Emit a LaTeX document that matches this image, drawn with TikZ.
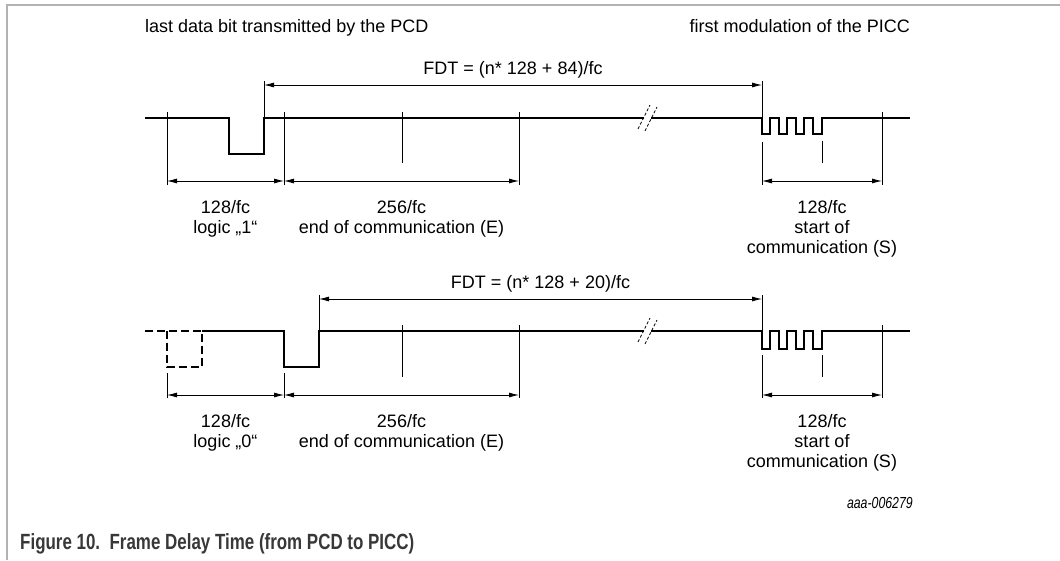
\documentclass[tikz,border=0pt]{standalone}
\usepackage{fontspec}
\setmainfont{Liberation Sans}
\newfontfamily\captionfont[FakeStretch=0.77]{Liberation Sans}
\usetikzlibrary{arrows.meta, positioning}

\begin{document}
\begin{tikzpicture}[
    x=1pt,
    y=-1pt,
    wave/.style={
        line width=2.6pt,
        line join=miter
    },
    ghost/.style={
        wave,
        dash pattern=on 8pt off 4pt
    },
    brk/.style={
        line width=0.8pt,
        dash pattern=on 3pt off 2pt
    },
    tick/.style={
        line width=0.8pt
    },
    dim/.style={
        <->,
        >={Latex[length=10pt, width=5pt]},
        line width=0.8pt
    },
    lbl/.style={
        font=\fontsize{18}{20}\selectfont,
        align=center,
        inner sep=0pt
    },
    frame/.style={
        draw=black!30,
        line width=1.5pt
    }
]
\useasboundingbox (0,0) rectangle (1060,560);

% Figure frame
\draw[frame] (7,560) -- (7,5) -- (1060,5);

% Headings
\node[lbl, anchor=base west] (pcd) at (145,32) {last data bit transmitted by the PCD};
\node[lbl, anchor=base east] (picc) at (910,32) {first modulation of the PICC};

% Row 1: last bit is logic "1"
\draw[wave] (145,118) -- (229,118) -- (229,154) -- (264,154) -- (264,118) -- (644,118);
\draw[wave] (651,118) -- (762,118) -- (762,134) -- (770,134) -- (770,118)
    -- (779,118) -- (779,134) -- (787,134) -- (787,118)
    -- (796,118) -- (796,134) -- (804,134) -- (804,118)
    -- (813,118) -- (813,134) -- (822,134) -- (822,118) -- (910,118);
\draw[brk] (638,129) -- (650,105);
\draw[brk] (645,131) -- (657,107);

\draw[tick] (167,112) -- (167,185);
\draw[tick] (264,81) -- (264,118);
\draw[tick] (284,112) -- (284,185);
\draw[tick] (402,112) -- (402,163);
\draw[tick] (519,112) -- (519,185);
\draw[tick] (762,81) -- (762,118);
\draw[tick] (762,142) -- (762,185);
\draw[tick] (822,141) -- (822,163);
\draw[tick] (882,112) -- (882,185);

\coordinate (bitA) at (167,181);
\coordinate (eocA) at (284,181);
\coordinate (endA) at (519,181);
\coordinate (socA) at (762,181);
\coordinate (picA) at (882,181);
\coordinate (fdtA) at (264,85);
\coordinate (modA) at (762,85);

\draw[dim] (fdtA) -- node[lbl, above=6pt] (fdtlabA) {FDT = (n* 128 + 84)/fc} (modA);
\draw[dim] (bitA) -- node[lbl, below=19pt] (bitlabA) {128/fc\\logic „1“} (eocA);
\draw[dim] (eocA) -- node[lbl, below=19pt] (eoclabA) {256/fc\\end of communication (E)} (endA);
\draw[dim] (socA) -- node[lbl, below=19pt] (soclabA) {128/fc\\start of\\communication (S)} (picA);

% Row 2: last bit is logic "0"
\draw[ghost] (145,331) -- (202,331);
\draw[ghost] (167,331) -- (167,367) -- (202,367) -- (202,331);
\draw[wave] (202,331) -- (284,331) -- (284,367) -- (319,367) -- (319,331) -- (644,331);
\draw[wave] (651,331) -- (762,331) -- (762,349) -- (770,349) -- (770,331)
    -- (779,331) -- (779,349) -- (787,349) -- (787,331)
    -- (796,331) -- (796,349) -- (804,349) -- (804,331)
    -- (813,331) -- (813,349) -- (822,349) -- (822,331) -- (910,331);
\draw[brk] (638,342) -- (650,318);
\draw[brk] (645,344) -- (657,320);

\draw[tick] (167,373) -- (167,398);
\draw[tick] (284,373) -- (284,398);
\draw[tick] (319,295) -- (319,331);
\draw[tick] (402,325) -- (402,377);
\draw[tick] (519,325) -- (519,398);
\draw[tick] (762,295) -- (762,331);
\draw[tick] (762,355) -- (762,398);
\draw[tick] (822,355) -- (822,377);
\draw[tick] (882,325) -- (882,398);

\coordinate (bitB) at (167,395);
\coordinate (eocB) at (284,395);
\coordinate (endB) at (519,395);
\coordinate (socB) at (762,395);
\coordinate (picB) at (882,395);
\coordinate (fdtB) at (319,299);
\coordinate (modB) at (762,299);

\draw[dim] (fdtB) -- node[lbl, above=6pt] (fdtlabB) {FDT = (n* 128 + 20)/fc} (modB);
\draw[dim] (bitB) -- node[lbl, below=19pt] (bitlabB) {128/fc\\logic „0“} (eocB);
\draw[dim] (eocB) -- node[lbl, below=19pt] (eoclabB) {256/fc\\end of communication (E)} (endB);
\draw[dim] (socB) -- node[lbl, below=19pt] (soclabB) {128/fc\\start of\\communication (S)} (picB);

% Drawing number and caption
\node[font=\captionfont\fontsize{16}{18}\selectfont\itshape, anchor=base east, inner sep=0pt] (drawno) at (913,508) {aaa-006279};
\node[font=\captionfont\fontsize{22}{26}\selectfont\bfseries, text=black!78, anchor=base west, inner sep=0pt] (caption) at (20,549) {Figure 10.\ \ Frame Delay Time (from PCD to PICC)};

\end{tikzpicture}
\end{document}
